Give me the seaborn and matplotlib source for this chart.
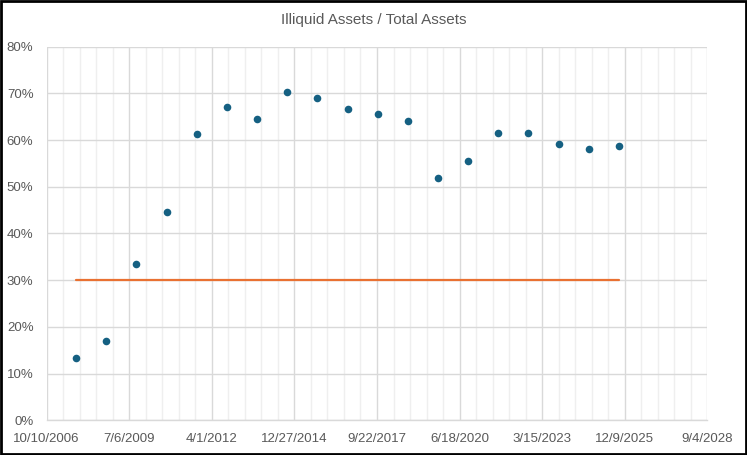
"""
Illiquid assets as a share of total assets, fiscal years 2007-2025,
with the 30% target line.
"""

import matplotlib as mpl
import matplotlib.dates as mdates
import matplotlib.pyplot as plt
import matplotlib.ticker as mticker
import pandas as pd
import seaborn as sns
from matplotlib.patches import Rectangle


YEARS = list(range(2007, 2026))
ILLIQUID_SHARE = [
    0.133, 0.170, 0.335, 0.445, 0.613, 0.671, 0.646, 0.703, 0.691, 0.666,
    0.656, 0.640, 0.518, 0.555, 0.615, 0.615, 0.592, 0.580, 0.587,
]
TARGET = 0.30

TITLE = 'Illiquid Assets / Total Assets'

X_START = pd.Timestamp('2006-10-10')
X_END = pd.Timestamp('2028-09-04')
MAJOR_DAYS = 1000
MINOR_DAYS = 200

DOT_COLOR = '#156082'
LINE_COLOR = '#E97132'
TEXT_COLOR = '#595959'
MAJOR_GRID = '#D9D9D9'
MINOR_GRID = '#EFEFEF'

FIGSIZE = (7.47, 4.55)
DPI = 100


def main() -> None:
    sns.set_style('white')
    plt.rcParams['font.family'] = ['Liberation Sans', 'DejaVu Sans']

    dates = pd.to_datetime([f'{y}-09-30' for y in YEARS])
    df = pd.DataFrame({'date': dates, 'share': ILLIQUID_SHARE})
    target = pd.DataFrame(
        {'date': [dates[0], dates[-1]], 'share': [TARGET, TARGET]}
    )

    fig = plt.figure(figsize=FIGSIZE, dpi=DPI)
    ax = fig.add_axes([0.0625, 0.0763, 0.8844, 0.8211])

    sns.lineplot(
        data=target, x='date', y='share', ax=ax,
        color=LINE_COLOR, linewidth=1.6, zorder=3,
    )
    sns.scatterplot(
        data=df, x='date', y='share', ax=ax,
        color=DOT_COLOR, s=30, linewidth=0, zorder=4,
    )

    major = pd.date_range(X_START, X_END, freq=f'{MAJOR_DAYS}D')
    minor = pd.date_range(X_START, X_END, freq=f'{MINOR_DAYS}D')
    ax.xaxis.set_major_locator(mticker.FixedLocator(mdates.date2num(major)))
    ax.xaxis.set_minor_locator(mticker.FixedLocator(mdates.date2num(minor)))
    ax.set_xticklabels([f'{d.month}/{d.day}/{d.year}' for d in major])

    ax.yaxis.set_major_locator(mticker.MultipleLocator(0.10))
    ax.yaxis.set_major_formatter(mticker.PercentFormatter(1.0, decimals=0))

    ax.set_xlim(X_START, X_END)
    ax.set_ylim(0, 0.80)

    ax.grid(which='major', axis='both', color=MAJOR_GRID, linewidth=1.0)
    ax.grid(which='minor', axis='x', color=MINOR_GRID, linewidth=1.0)
    ax.set_axisbelow(True)

    for side in ('top', 'right', 'left'):
        ax.spines[side].set_visible(False)
    ax.spines['bottom'].set_color(MAJOR_GRID)
    ax.spines['bottom'].set_linewidth(1.0)

    ax.tick_params(
        axis='both', which='both', length=0, labelsize=9.5,
        labelcolor=TEXT_COLOR,
    )
    ax.tick_params(axis='x', pad=9)
    ax.tick_params(axis='y', pad=9.5)

    ax.set_xlabel('')
    ax.set_ylabel('')

    fig.text(
        0.5, 0.955, TITLE, ha='center', va='center',
        fontsize=11, color=TEXT_COLOR,
    )

    fig.patches.append(
        Rectangle(
            (0.0015, 0.0025), 0.997, 0.995, transform=fig.transFigure,
            fill=False, edgecolor='black', linewidth=2.0,
        )
    )

    fig.savefig('out.png', dpi=DPI)


if __name__ == '__main__':
    main()
